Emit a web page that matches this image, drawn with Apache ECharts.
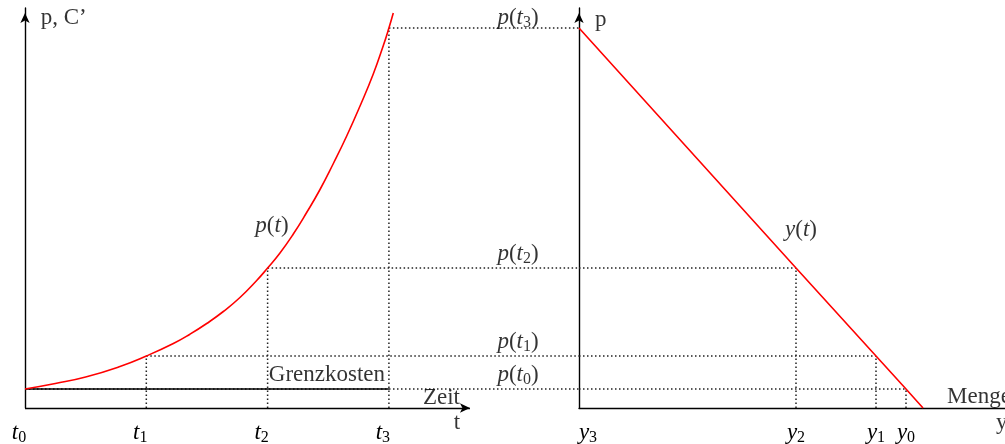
<!DOCTYPE html>
<html>
<head>
<meta charset="utf-8">
<script src="https://cdn.jsdelivr.net/npm/echarts@6/dist/echarts.min.js"></script>
<style>
html, body { margin: 0; padding: 0; background: #fff; }
#chart { width: 1005px; height: 444px; }
</style>
</head>
<body>
<div id="chart"></div>
<script>
// Time points t0..t3 and the price reached at each of them
const tTicks = [0, 1, 2, 3];
const tSub = ['0', '1', '2', '3'];
const priceAtT = [0.19, 0.52, 1.40, 3.80];

// Price path p(t) over time
const curveT = [0, 0.25, 0.5, 0.783, 1.0, 1.223, 1.36, 1.498, 1.635, 1.772, 1.91, 2.0, 2.102, 2.212, 2.322, 2.432, 2.542, 2.652, 2.762, 2.871, 2.954, 3.0, 3.036];
const curveP = [0.19, 0.245, 0.31, 0.415, 0.52, 0.645, 0.738, 0.845, 0.965, 1.105, 1.275, 1.40, 1.55, 1.74, 1.955, 2.185, 2.445, 2.72, 3.02, 3.34, 3.625, 3.80, 3.95];

// Demand line y(t): quantity against price
const demandQ = [0, 2.17, 2.97, 3.27, 3.44];
const demandP = [3.80, 1.40, 0.52, 0.19, 0];

// Quantity bought at p(t0)..p(t3), i.e. y0..y3
const qAtT = [3.27, 2.97, 2.17, 0];

const FONT = 'Liberation Serif';
const FS = 23;
const rich = {
  i: { fontFamily: FONT, fontStyle: 'italic', fontSize: FS, color: '#000' },
  r: { fontFamily: FONT, fontSize: FS, color: '#000' },
  s: { fontFamily: FONT, fontSize: 16, color: '#000', padding: [10, 0, 0, 0] },
  pad: { width: 18 }
};
const mathSub = (v, k) => '{i|' + v + '}{s|' + k + '}';
const priceLabel = k => '{i|p}{r|(}{i|t}{s|' + k + '}{r|)}';

// Axis ranges (same price scale in both panels)
const T_MAX = 4.567;
const Q_MAX = 4.26;
const P_MAX = 4.0;

const dotted = { color: '#222', width: 1.5, type: [1.5, 2.5] };
const series = [];

function segment(grid, a, b, style, z) {
  series.push({
    type: 'line', xAxisIndex: grid, yAxisIndex: grid,
    data: [a, b], symbol: 'none', silent: true, animation: false,
    lineStyle: style, z: z || 2, clip: false
  });
}

// Dotted guides in the time panel: across to the price axis and down to the time axis
tTicks.forEach((t, i) => {
  segment(0, [t, priceAtT[i]], [T_MAX, priceAtT[i]], dotted);
  if (t > 0) segment(0, [t, 0], [t, priceAtT[i]], dotted);
});
// Dotted guides in the quantity panel
qAtT.forEach((q, i) => {
  if (q > 0) {
    segment(1, [0, priceAtT[i]], [q, priceAtT[i]], dotted);
    segment(1, [q, 0], [q, priceAtT[i]], dotted);
  }
});

// Marginal cost line (Grenzkosten)
segment(0, [tTicks[0], priceAtT[0]], [tTicks[3], priceAtT[0]], { color: '#000', width: 1.4, type: 'solid' }, 4);

// Price path
series.push({
  type: 'line', xAxisIndex: 0, yAxisIndex: 0,
  data: curveT.map((t, i) => [t, curveP[i]]),
  smooth: 0.5, symbol: 'none', clip: false, animation: false, z: 5,
  lineStyle: { color: '#ff0000', width: 1.6 },
  // time axis drawn with an arrow
  markLine: {
    silent: true, animation: false, symbol: ['none', 'arrow'], symbolSize: [7, 10],
    label: { show: false },
    lineStyle: { color: '#000', width: 1.4, type: 'solid' },
    data: [[{ coord: [0, 0] }, { coord: [3.668, 0] }]]
  }
});

// Demand line
series.push({
  type: 'line', xAxisIndex: 1, yAxisIndex: 1,
  data: demandQ.map((q, i) => [q, demandP[i]]),
  symbol: 'none', clip: false, animation: false, z: 5,
  lineStyle: { color: '#ff0000', width: 1.6 }
});

// Text annotations
function texts(grid, items) {
  series.push({
    type: 'scatter', xAxisIndex: grid, yAxisIndex: grid,
    symbolSize: 0, clip: false, silent: true, animation: false, z: 10,
    data: items.map(it => ({
      value: [it.x, it.y],
      label: {
        show: true, position: 'inside', formatter: it.text, rich: rich,
        align: it.align || 'center', verticalAlign: 'middle',
        fontFamily: FONT, fontSize: FS, color: '#000'
      }
    }))
  });
}

texts(0, [
  { x: 0.13, y: 3.90, text: "{r|p, C’}", align: 'left' },
  { x: 2.036, y: 1.82, text: '{i|p}{r|(}{i|t}{r|)}' },
  { x: 2.968, y: 0.33, text: '{r|Grenzkosten}', align: 'right' },
  { x: 3.586, y: 0.10, text: '{r|Zeit}', align: 'right' },
  { x: 3.56, y: -0.15, text: '{r|t}' }
].concat(tTicks.map((t, i) => ({
  x: 4.064, y: Math.min(priceAtT[i] + 0.14, 3.90), text: priceLabel(tSub[i])
}))));

texts(1, [
  { x: 0.16, y: 3.88, text: '{r|p}', align: 'left' },
  { x: 2.22, y: 1.78, text: '{i|y}{r|(}{i|t}{r|)}' },
  { x: 3.68, y: 0.11, text: '{r|Menge}', align: 'left' },
  { x: 4.17, y: -0.15, text: '{r|y}', align: 'left' }
]);

const yAxisBase = (grid) => ({
  type: 'value', gridIndex: grid, min: 0, max: P_MAX,
  axisLine: { show: true, lineStyle: { color: '#000', width: 1.4 },
    symbol: ['none', 'arrow'], symbolSize: [7, 10], symbolOffset: [0, -5] },
  axisTick: { show: false }, axisLabel: { show: false }, splitLine: { show: false }
});

const option = {
  backgroundColor: '#fff',
  animation: false,
  grid: [
    { left: 25, top: 8, width: 554, height: 400, outerBoundsMode: 'none', containLabel: false },
    { left: 579, top: 8, width: 426, height: 400, outerBoundsMode: 'none', containLabel: false }
  ],
  xAxis: [
    {
      type: 'value', gridIndex: 0, min: 0, max: T_MAX,
      axisLine: { show: false }, axisTick: { show: false }, splitLine: { show: false },
      axisLabel: {
        customValues: tTicks, margin: 12, padding: [0, 12, 0, 0], rich: rich,
        formatter: v => { const i = tTicks.indexOf(Math.round(v)); return i < 0 ? '' : mathSub('t', tSub[i]); }
      }
    },
    {
      type: 'value', gridIndex: 1, min: 0, max: Q_MAX,
      axisLine: { show: true, lineStyle: { color: '#000', width: 1.4 } },
      axisTick: { show: false }, splitLine: { show: false },
      axisLabel: {
        customValues: qAtT.slice().sort((a, b) => a - b), margin: 12, rich: rich,
        showMinLabel: true, showMaxLabel: true,
        formatter: v => {
          const i = qAtT.findIndex(q => Math.abs(q - v) < 1e-6);
          if (i < 0) return '';
          return (qAtT[i] === 0 ? '{pad|}' : '') + mathSub('y', String(i));
        }
      }
    }
  ],
  yAxis: [yAxisBase(0), yAxisBase(1)],
  series: series
};

const chart = echarts.init(document.getElementById('chart'), null, { renderer: 'canvas' });
chart.setOption(option);
</script>
</body>
</html>
